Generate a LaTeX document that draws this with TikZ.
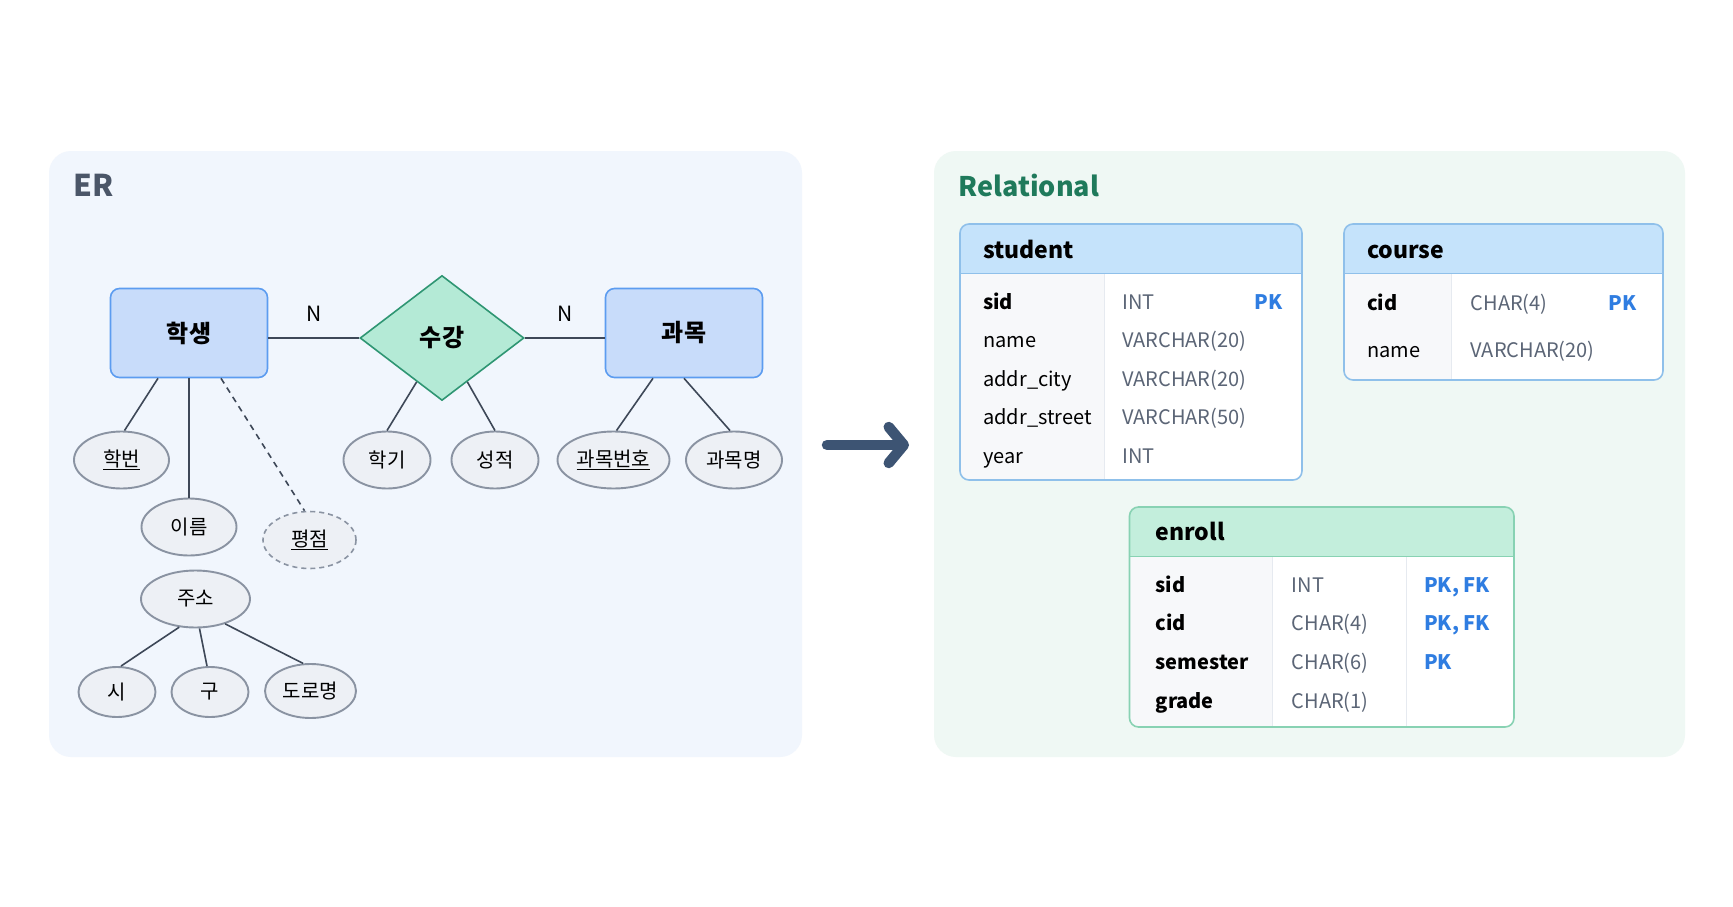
\documentclass[tikz,border=0pt]{standalone}
\usepackage{fontspec}
\setmainfont{Noto Sans CJK KR}
\usetikzlibrary{shapes.geometric}
\usetikzlibrary{arrows.meta}
\usetikzlibrary{positioning}

\definecolor{erpanel}{HTML}{F1F6FD}
\definecolor{relpanel}{HTML}{EFF8F4}
\definecolor{ertitle}{HTML}{4B5668}
\definecolor{reltitle}{HTML}{1F7A5B}
\definecolor{entfill}{HTML}{C8DCFA}
\definecolor{entline}{HTML}{5C9CF0}
\definecolor{relfill}{HTML}{B4EAD6}
\definecolor{relline}{HTML}{2F9673}
\definecolor{attfill}{HTML}{EDF0F5}
\definecolor{attline}{HTML}{8A93A2}
\definecolor{linkcol}{HTML}{3E4858}
\definecolor{arrowcol}{HTML}{3D5473}
\definecolor{bluehead}{HTML}{C5E3FB}
\definecolor{blueline}{HTML}{8FC0EA}
\definecolor{greenhead}{HTML}{C3EEDC}
\definecolor{greenline}{HTML}{88D2B3}
\definecolor{typecol}{HTML}{5B6576}
\definecolor{keycol}{HTML}{2F7DE1}
\definecolor{coltint}{HTML}{F7F8FA}
\definecolor{gridcol}{HTML}{E6EAF0}

\begin{document}
\begin{tikzpicture}[x=1pt, y=-1pt,
  entity/.style={draw=entline, fill=entfill, line width=1.6pt, rounded corners=9pt,
    minimum width=157pt, minimum height=89pt, font=\fontsize{24}{26}\selectfont\bfseries},
  relship/.style={diamond, draw=relline, fill=relfill, line width=1.6pt, inner sep=0pt,
    minimum width=164pt, minimum height=125pt, font=\fontsize{24}{26}\selectfont\bfseries},
  attr/.style={ellipse, draw=attline, fill=attfill, line width=1.9pt, inner sep=0pt,
    minimum width=95pt, minimum height=57pt, font=\fontsize{20}{22}\selectfont},
  weakattr/.style={attr, line width=1.6pt, dash pattern=on 5pt off 4pt},
  link/.style={draw=linkcol, line width=1.6pt},
  card/.style={font=\fontsize{21}{22}\selectfont},
  title/.style={anchor=west, font=\fontsize{30}{32}\selectfont\bfseries},
  cell/.style={text height=18pt, text depth=2pt, inner sep=3pt},
  thead/.style={cell, anchor=west, font=\fontsize{23}{24}\selectfont\bfseries},
  fname/.style={cell, anchor=west, font=\fontsize{20}{22}\selectfont},
  ftype/.style={cell, anchor=west, text=typecol, font=\fontsize{20}{22}\selectfont},
  fkey/.style={cell, text=keycol, font=\fontsize{20}{22}\selectfont\bfseries}]

  \useasboundingbox[fill=white] (0,0) rectangle (1733,907);

  % panels
  \fill[erpanel, rounded corners=22pt] (49,151) rectangle (802,757);
  \fill[relpanel, rounded corners=22pt] (934,151) rectangle (1685,757);
  \node[title, text=ertitle] (ertext) at (70,185) {ER};
  \node[title, text=reltitle, font=\fontsize{27}{30}\selectfont\bfseries] (reltext) at (955,185) {Relational};

  % ER diagram
  \node[entity] (stu) at (189,333) {학생};
  \node[relship] (takes) at (442,338) {수강};
  \node[entity] (crs) at (684,333) {과목};

  \node[attr] (sid) at (121.5,460) {\underline{학번}};
  \node[attr] (sname) at (189,527) {이름};
  \node[weakattr, minimum width=93pt] (gpa) at (309.5,540) {\underline{평점}};
  \node[attr, minimum width=109pt] (addr) at (195.5,599) {주소};
  \node[attr, minimum width=77pt, minimum height=50pt] (city) at (117,692) {시};
  \node[attr, minimum width=77pt, minimum height=50pt] (gu) at (210,692) {구};
  \node[attr, minimum width=91pt, minimum height=54pt] (street) at (310.5,691) {도로명};
  \node[attr, minimum width=87pt] (sem) at (387,460) {학기};
  \node[attr, minimum width=87pt] (score) at (495,460) {성적};
  \node[attr, minimum width=112pt] (cno) at (613.5,460) {\underline{과목번호}};
  \node[attr, minimum width=96pt] (cname) at (734,460) {과목명};

  \draw[link] (takes.west -| stu.east) -- node[card, above=12pt] (card1) {N} (takes.west);
  \draw[link] (takes.east) -- node[card, above=12pt] (card2) {N} (takes.east -| crs.west);
  \draw[link] ([xshift=-31pt]stu.south) -- ([xshift=3pt]sid.north);
  \draw[link] (stu.south) -- (sname.north);
  \draw[link, dash pattern=on 6pt off 5pt] ([xshift=32pt]stu.south) -- ([xshift=-5pt]gpa.north);
  \draw[link] (addr.240) -- ([xshift=4pt]city.north);
  \draw[link] ([xshift=4pt]addr.south) -- ([xshift=-3pt]gu.north);
  \draw[link] (addr.-40) -- (street.105);
  \draw[link] (takes.240) -- (sem.north);
  \draw[link] (takes.300) -- (score.north);
  \draw[link] ([xshift=-31pt]crs.south) -- ([xshift=3pt]cno.north);
  \draw[link] (crs.south) -- ([xshift=-4pt]cname.north);

  % mapping arrow
  \coordinate (arrowfrom) at (827,445);
  \coordinate (arrowto) at (909,445);
  \draw[arrowcol, line width=10.5pt, line cap=round,
    -{Straight Barb[round, length=15pt, width=36pt]}] (arrowfrom) -- (arrowto);

  % table student
  \begin{scope}
    \clip[rounded corners=9pt] (960,224) rectangle (1302,480);
    \fill[white] (960,224) rectangle (1302,480);
    \fill[bluehead] (960,224) rectangle (1302,273);
    \fill[coltint] (960,273) rectangle (1104,480);
  \end{scope}
  \draw[gridcol, line width=1pt] (1104,273) -- (1104,480);
  \draw[blueline, line width=0.8pt] (960,273) -- (1302,273);
  \draw[blueline, line width=1.6pt, rounded corners=9pt] (960,224) rectangle (1302,480);
  \node[thead] (stuhead) at (980,250) {student};
  \foreach \f/\t [count=\i from 0] in {\bfseries sid/INT, name/VARCHAR(20),
      addr\_city/VARCHAR(20), addr\_street/VARCHAR(50), year/INT} {
    \node[fname] (stuf\i) at (980,301+38.5*\i) {\f};
    \node[ftype] (stut\i) at (1119,301+38.5*\i) {\t};
  }
  \node[fkey, anchor=east] (stuk0) at (1286,301) {PK};

  % table course
  \begin{scope}
    \clip[rounded corners=9pt] (1344,224) rectangle (1663,380);
    \fill[white] (1344,224) rectangle (1663,380);
    \fill[bluehead] (1344,224) rectangle (1663,273);
    \fill[coltint] (1344,273) rectangle (1451,380);
  \end{scope}
  \draw[gridcol, line width=1pt] (1451,273) -- (1451,380);
  \draw[blueline, line width=0.8pt] (1344,273) -- (1663,273);
  \draw[blueline, line width=1.6pt, rounded corners=9pt] (1344,224) rectangle (1663,380);
  \node[thead] (crshead) at (1364,250) {course};
  \node[fname, font=\fontsize{20}{22}\selectfont\bfseries] (crsf0) at (1364,302) {cid};
  \node[ftype] (crst0) at (1467.5,302) {CHAR(4)};
  \node[fkey, anchor=east] (crsk0) at (1640,302) {PK};
  \node[fname] (crsf1) at (1364,349) {name};
  \node[ftype] (crst1) at (1467.5,349) {VARCHAR(20)};

  % table enroll
  \begin{scope}
    \clip[rounded corners=9pt] (1129.5,507) rectangle (1514,727);
    \fill[white] (1129.5,507) rectangle (1514,727);
    \fill[greenhead] (1129.5,507) rectangle (1514,556);
    \fill[coltint] (1129.5,556) rectangle (1272,727);
  \end{scope}
  \draw[gridcol, line width=1pt] (1272,556) -- (1272,727) (1406,556) -- (1406,727);
  \draw[greenline, line width=0.8pt] (1129.5,556) -- (1514,556);
  \draw[greenline, line width=1.6pt, rounded corners=9pt] (1129.5,507) rectangle (1514,727);
  \node[thead] (enrhead) at (1152.5,532) {enroll};
  \foreach \f/\t/\k [count=\i from 0] in {sid/INT/{PK, FK}, cid/CHAR(4)/{PK, FK},
      semester/CHAR(6)/PK, grade/CHAR(1)/} {
    \node[fname, font=\fontsize{20}{22}\selectfont\bfseries] (enrf\i) at (1152.5,584+38.7*\i) {\f};
    \node[ftype] (enrt\i) at (1288.5,584+38.7*\i) {\t};
    \node[fkey, anchor=west] (enrk\i) at (1421,584+38.7*\i) {\k};
  }
\end{tikzpicture}
\end{document}
